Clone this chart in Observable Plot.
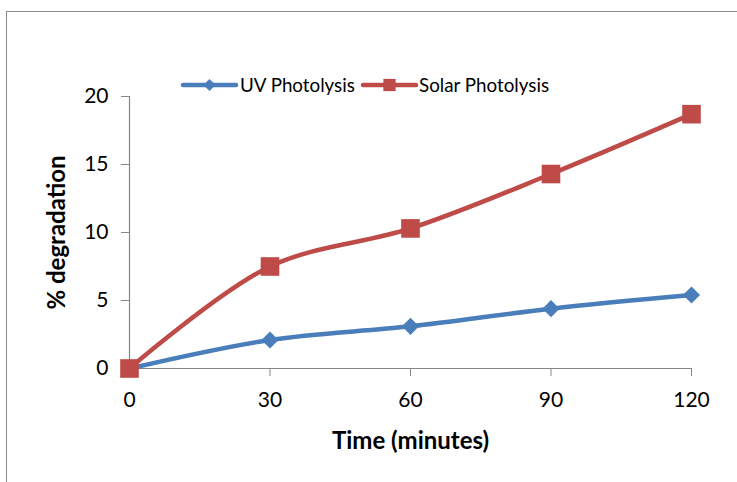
<!DOCTYPE html>
<html><head><meta charset="utf-8">
<script src="https://cdn.jsdelivr.net/npm/d3@7"></script>
<script src="https://cdn.jsdelivr.net/npm/@observablehq/plot@0.6"></script>
<style>
body{margin:0;background:#fff;font-family:Lato,"Open Sans",sans-serif;}
#wrap{position:relative;width:737px;height:482px;overflow:hidden;}
#frame{position:absolute;left:6px;top:11px;width:900px;height:700px;border:1px solid #8a8a8a;}
#legend{position:absolute;left:0;top:0;}
#chart{position:absolute;left:0;top:0;}
</style></head>
<body><div id="wrap"><div id="frame"></div><div id="chart"></div><svg id="legend" width="737" height="110"></svg></div>
<script>
const times = [0, 30, 60, 90, 120];
const uv = [0, 2.1, 3.1, 4.4, 5.4];
const solar = [0, 7.5, 10.3, 14.3, 18.7];
const seriesNames = ["UV Photolysis", "Solar Photolysis"];
const colors = ["#4a7ebb", "#be4b48"];
const yTicks = [0, 5, 10, 15, 20];
const xTicks = [0, 30, 60, 90, 120];

const uvData = times.map((t, i) => ({t, v: uv[i]}));
const solarData = times.map((t, i) => ({t, v: solar[i]}));

const chart = Plot.plot({
  width: 737, height: 482,
  marginLeft: 129, marginRight: 46, marginTop: 96, marginBottom: 114,
  style: {fontFamily: "Lato, sans-serif", fontSize: "21px", color: "#000", background: "transparent"},
  x: {domain: [0, 120], ticks: xTicks},
  y: {domain: [0, 20], ticks: yTicks},
  marks: [
    Plot.axisX({ticks: xTicks, tickSize: 8, tickPadding: 16, stroke: "#868686", strokeOpacity: 1, fill: "#000",
      label: "Time (minutes)", labelAnchor: "center", labelArrow: "none", labelOffset: 80}),
    Plot.axisY({ticks: yTicks, tickSize: 8, tickPadding: 13, stroke: "#868686", strokeOpacity: 1, fill: "#000",
      label: "% degradation", labelAnchor: "center", labelArrow: "none", labelOffset: 82}),
    Plot.ruleY([0], {stroke: "#868686", strokeWidth: 1.2}),
    Plot.ruleX([0], {stroke: "#868686", strokeWidth: 1.2}),
    Plot.line(uvData, {x: "t", y: "v", stroke: colors[0], strokeWidth: 4.5, curve: "catmull-rom"}),
    Plot.dot(uvData, {x: "t", y: "v", symbol: "diamond2", r: 7.7, fill: colors[0], stroke: "none"}),
    Plot.line(solarData, {x: "t", y: "v", stroke: colors[1], strokeWidth: 4.5, curve: "catmull-rom"}),
    Plot.dot(solarData, {x: "t", y: "v", symbol: "square", r: 10.5, fill: colors[1], stroke: "none"})
  ]
});
document.getElementById("chart").appendChild(chart);
d3.select(chart).selectAll("[aria-label='x-axis label'] text, [aria-label='y-axis label'] text")
  .attr("font-weight", "bold").attr("font-size", 24);

// legend
const lg = d3.select("#legend");
const items = [
  {name: seriesNames[0], color: colors[0], x0: 183, x1: 236, tx: 240, sym: d3.symbolDiamond2, size: 95},
  {name: seriesNames[1], color: colors[1], x0: 363, x1: 416, tx: 419, sym: d3.symbolSquare, size: 150}
];
const ly = 85;
items.forEach(it => {
  lg.append("line").attr("x1", it.x0).attr("x2", it.x1).attr("y1", ly).attr("y2", ly)
    .attr("stroke", it.color).attr("stroke-width", 4.5).attr("stroke-linecap", "round");
  lg.append("path").attr("d", d3.symbol(it.sym, it.size)())
    .attr("transform", `translate(${(it.x0 + it.x1) / 2},${ly})`).attr("fill", it.color);
  lg.append("text").attr("x", it.tx).attr("y", ly).attr("dy", "0.35em")
    .attr("font-family", "Lato, sans-serif").attr("font-size", 18.8).text(it.name);
});
</script></body></html>
